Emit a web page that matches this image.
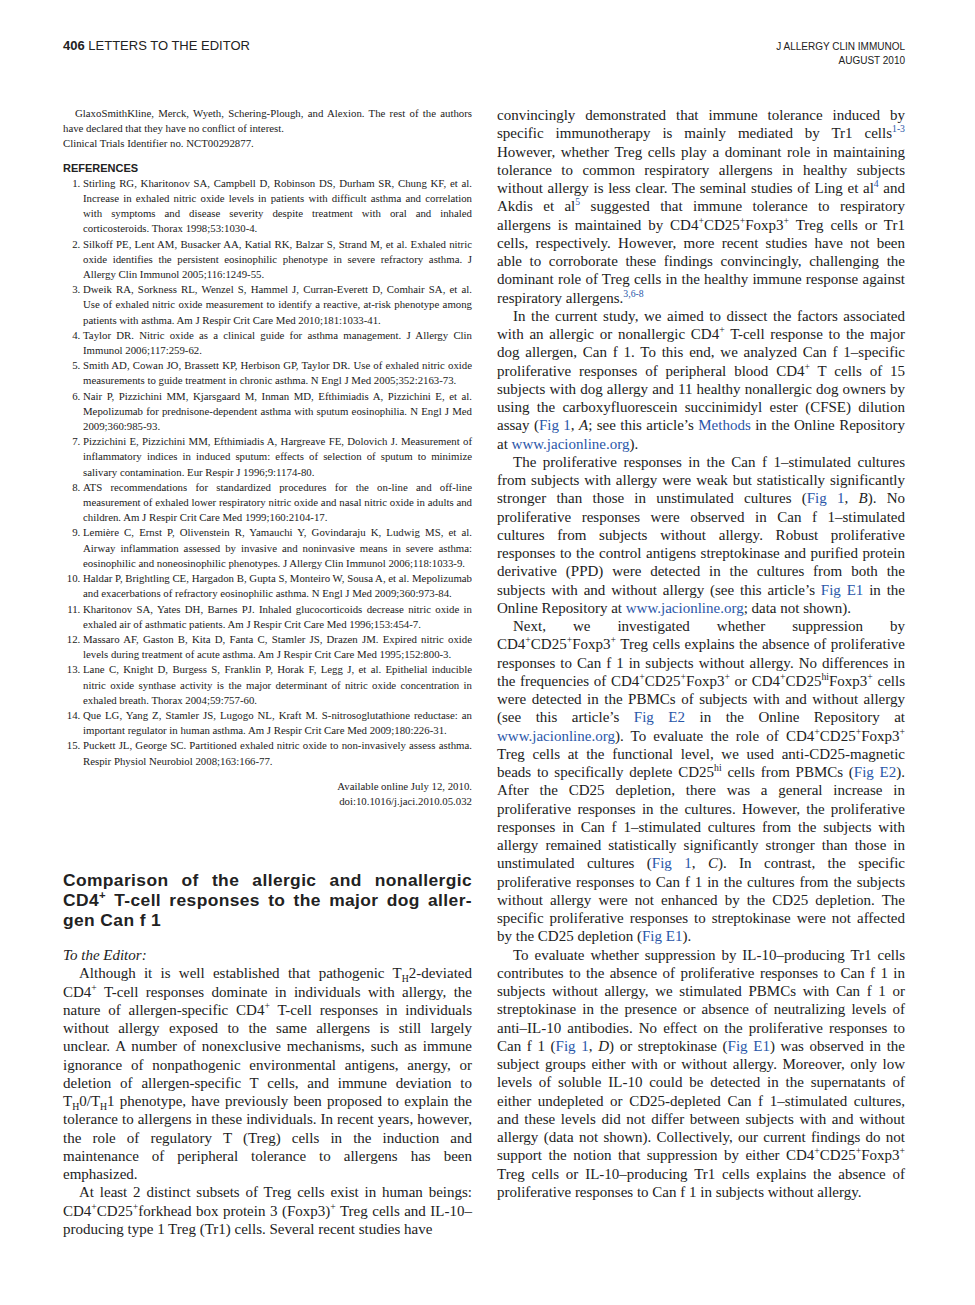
<!DOCTYPE html>
<html><head><meta charset="utf-8">
<script src="https://cdn.jsdelivr.net/npm/chart.js@4"></script>
<style>
body{margin:0;width:975px;height:1305px;background:#fff;font-family:"Liberation Serif",serif;color:#222;position:relative;overflow:hidden}
.hd{position:absolute;font-family:"Liberation Sans",sans-serif}
.col{position:absolute;text-align:justify;font-size:15px;line-height:18.25px}
.col p{margin:0;text-indent:16px}
.refs{position:absolute;left:63px;top:106px;width:409px;font-size:10.8px;line-height:15.2px;text-align:justify}
.refs ol{margin:0;padding-left:20px}
a{color:#2a56a8;text-decoration:none}
sup{font-size:65%;line-height:0}
sub{font-size:65%;line-height:0}
h2{font-family:"Liberation Sans",sans-serif;font-weight:bold;font-size:17.4px;line-height:20px;letter-spacing:.4px;margin:0;text-align:justify}
</style></head><body>
<div class="hd" style="left:63px;top:38px;font-size:13px"><b>406</b> LETTERS TO THE EDITOR</div>
<div class="hd" style="right:70px;top:40px;font-size:10px;text-align:right;line-height:14px">J ALLERGY CLIN IMMUNOL<br>AUGUST 2010</div>
<div class="refs">
<div style="text-indent:12px">GlaxoSmithKline, Merck, Wyeth, Schering-Plough, and Alexion. The rest of the authors have declared that they have no conflict of interest.</div>
<div>Clinical Trials Identifier no. NCT00292877.</div>
<div style="font-family:'Liberation Sans',sans-serif;font-weight:bold;font-size:11px;margin-top:9px">REFERENCES</div>
<ol>
<li>Stirling RG, Kharitonov SA, Campbell D, Robinson DS, Durham SR, Chung KF, et al. Increase in exhaled nitric oxide levels in patients with difficult asthma and correlation with symptoms and disease severity despite treatment with oral and inhaled corticosteroids. Thorax 1998;53:1030-4.</li>
<li>Silkoff PE, Lent AM, Busacker AA, Katial RK, Balzar S, Strand M, et al. Exhaled nitric oxide identifies the persistent eosinophilic phenotype in severe refractory asthma. J Allergy Clin Immunol 2005;116:1249-55.</li>
<li>Dweik RA, Sorkness RL, Wenzel S, Hammel J, Curran-Everett D, Comhair SA, et al. Use of exhaled nitric oxide measurement to identify a reactive, at-risk phenotype among patients with asthma. Am J Respir Crit Care Med 2010;181:1033-41.</li>
<li>Taylor DR. Nitric oxide as a clinical guide for asthma management. J Allergy Clin Immunol 2006;117:259-62.</li>
<li>Smith AD, Cowan JO, Brassett KP, Herbison GP, Taylor DR. Use of exhaled nitric oxide measurements to guide treatment in chronic asthma. N Engl J Med 2005;352:2163-73.</li>
<li>Nair P, Pizzichini MM, Kjarsgaard M, Inman MD, Efthimiadis A, Pizzichini E, et al. Mepolizumab for prednisone-dependent asthma with sputum eosinophilia. N Engl J Med 2009;360:985-93.</li>
<li>Pizzichini E, Pizzichini MM, Efthimiadis A, Hargreave FE, Dolovich J. Measurement of inflammatory indices in induced sputum: effects of selection of sputum to minimize salivary contamination. Eur Respir J 1996;9:1174-80.</li>
<li>ATS recommendations for standardized procedures for the on-line and off-line measurement of exhaled lower respiratory nitric oxide and nasal nitric oxide in adults and children. Am J Respir Crit Care Med 1999;160:2104-17.</li>
<li>Lemière C, Ernst P, Olivenstein R, Yamauchi Y, Govindaraju K, Ludwig MS, et al. Airway inflammation assessed by invasive and noninvasive means in severe asthma: eosinophilic and noneosinophilic phenotypes. J Allergy Clin Immunol 2006;118:1033-9.</li>
<li>Haldar P, Brightling CE, Hargadon B, Gupta S, Monteiro W, Sousa A, et al. Mepolizumab and exacerbations of refractory eosinophilic asthma. N Engl J Med 2009;360:973-84.</li>
<li>Kharitonov SA, Yates DH, Barnes PJ. Inhaled glucocorticoids decrease nitric oxide in exhaled air of asthmatic patients. Am J Respir Crit Care Med 1996;153:454-7.</li>
<li>Massaro AF, Gaston B, Kita D, Fanta C, Stamler JS, Drazen JM. Expired nitric oxide levels during treatment of acute asthma. Am J Respir Crit Care Med 1995;152:800-3.</li>
<li>Lane C, Knight D, Burgess S, Franklin P, Horak F, Legg J, et al. Epithelial inducible nitric oxide synthase activity is the major determinant of nitric oxide concentration in exhaled breath. Thorax 2004;59:757-60.</li>
<li>Que LG, Yang Z, Stamler JS, Lugogo NL, Kraft M. S-nitrosoglutathione reductase: an important regulator in human asthma. Am J Respir Crit Care Med 2009;180:226-31.</li>
<li>Puckett JL, George SC. Partitioned exhaled nitric oxide to non-invasively assess asthma. Respir Physiol Neurobiol 2008;163:166-77.</li>
</ol>
<div style="text-align:right;margin-top:10px">Available online July 12, 2010.<br>doi:10.1016/j.jaci.2010.05.032</div>
</div>
<div class="col" style="left:63px;top:870px;width:409px">
<h2>Comparison of the allergic and nonallergic CD4<sup>+</sup> T-cell responses to the major dog aller-gen Can f 1</h2>
<div style="margin-top:16px;font-style:italic">To the Editor:</div>
<p>Although it is well established that pathogenic T<sub>H</sub>2-deviated CD4<sup>+</sup> T-cell responses dominate in individuals with allergy, the nature of allergen-specific CD4<sup>+</sup> T-cell responses in individuals without allergy exposed to the same allergens is still largely unclear. A number of nonexclusive mechanisms, such as immune ignorance of nonpathogenic environmental antigens, anergy, or deletion of allergen-specific T cells, and immune deviation to T<sub>H</sub>0/T<sub>H</sub>1 phenotype, have previously been proposed to explain the tolerance to allergens in these individuals. In recent years, however, the role of regulatory T (Treg) cells in the induction and maintenance of peripheral tolerance to allergens has been emphasized.</p>
<p>At least 2 distinct subsets of Treg cells exist in human beings: CD4<sup>+</sup>CD25<sup>+</sup>forkhead box protein 3 (Foxp3)<sup>+</sup> Treg cells and IL-10–producing type 1 Treg (Tr1) cells. Several recent studies have</p>
</div>
<div class="col" style="left:497px;top:106px;width:408px">
<div>convincingly demonstrated that immune tolerance induced by specific immunotherapy is mainly mediated by Tr1 cells<sup><a>1-3</a></sup> However, whether Treg cells play a dominant role in maintaining tolerance to common respiratory allergens in healthy subjects without allergy is less clear. The seminal studies of Ling et al<sup><a>4</a></sup> and Akdis et al<sup><a>5</a></sup> suggested that immune tolerance to respiratory allergens is maintained by CD4<sup>+</sup>CD25<sup>+</sup>Foxp3<sup>+</sup> Treg cells or Tr1 cells, respectively. However, more recent studies have not been able to corroborate these findings convincingly, challenging the dominant role of Treg cells in the healthy immune response against respiratory allergens.<sup><a>3,6-8</a></sup></div>
<p>In the current study, we aimed to dissect the factors associated with an allergic or nonallergic CD4<sup>+</sup> T-cell response to the major dog allergen, Can f 1. To this end, we analyzed Can f 1–specific proliferative responses of peripheral blood CD4<sup>+</sup> T cells of 15 subjects with dog allergy and 11 healthy nonallergic dog owners by using the carboxyfluorescein succinimidyl ester (CFSE) dilution assay (<a>Fig 1</a>, <i>A</i>; see this article’s <a>Methods</a> in the Online Repository at <a>www.jacionline.org</a>).</p>
<p>The proliferative responses in the Can f 1–stimulated cultures from subjects with allergy were weak but statistically significantly stronger than those in unstimulated cultures (<a>Fig 1</a>, <i>B</i>). No proliferative responses were observed in Can f 1–stimulated cultures from subjects without allergy. Robust proliferative responses to the control antigens streptokinase and purified protein derivative (PPD) were detected in the cultures from both the subjects with and without allergy (see this article’s <a>Fig E1</a> in the Online Repository at <a>www.jacionline.org</a>; data not shown).</p>
<p>Next, we investigated whether suppression by CD4<sup>+</sup>CD25<sup>+</sup>Foxp3<sup>+</sup> Treg cells explains the absence of proliferative responses to Can f 1 in subjects without allergy. No differences in the frequencies of CD4<sup>+</sup>CD25<sup>+</sup>Foxp3<sup>+</sup> or CD4<sup>+</sup>CD25<sup>hi</sup>Foxp3<sup>+</sup> cells were detected in the PBMCs of subjects with and without allergy (see this article’s <a>Fig E2</a> in the Online Repository at <a>www.jacionline.org</a>). To evaluate the role of CD4<sup>+</sup>CD25<sup>+</sup>Foxp3<sup>+</sup> Treg cells at the functional level, we used anti-CD25-magnetic beads to specifically deplete CD25<sup>hi</sup> cells from PBMCs (<a>Fig E2</a>). After the CD25 depletion, there was a general increase in proliferative responses in the cultures. However, the proliferative responses in Can f 1–stimulated cultures from the subjects with allergy remained statistically significantly stronger than those in unstimulated cultures (<a>Fig 1</a>, <i>C</i>). In contrast, the specific proliferative responses to Can f 1 in the cultures from the subjects without allergy were not enhanced by the CD25 depletion. The specific proliferative responses to streptokinase were not affected by the CD25 depletion (<a>Fig E1</a>).</p>
<p>To evaluate whether suppression by IL-10–producing Tr1 cells contributes to the absence of proliferative responses to Can f 1 in subjects without allergy, we stimulated PBMCs with Can f 1 or streptokinase in the presence or absence of neutralizing levels of anti–IL-10 antibodies. No effect on the proliferative responses to Can f 1 (<a>Fig 1</a>, <i>D</i>) or streptokinase (<a>Fig E1</a>) was observed in the subject groups either with or without allergy. Moreover, only low levels of soluble IL-10 could be detected in the supernatants of either undepleted or CD25-depleted Can f 1–stimulated cultures, and these levels did not differ between subjects with and without allergy (data not shown). Collectively, our current findings do not support the notion that suppression by either CD4<sup>+</sup>CD25<sup>+</sup>Foxp3<sup>+</sup> Treg cells or IL-10–producing Tr1 cells explains the absence of proliferative responses to Can f 1 in subjects without allergy.</p>
</div>
</body></html>
